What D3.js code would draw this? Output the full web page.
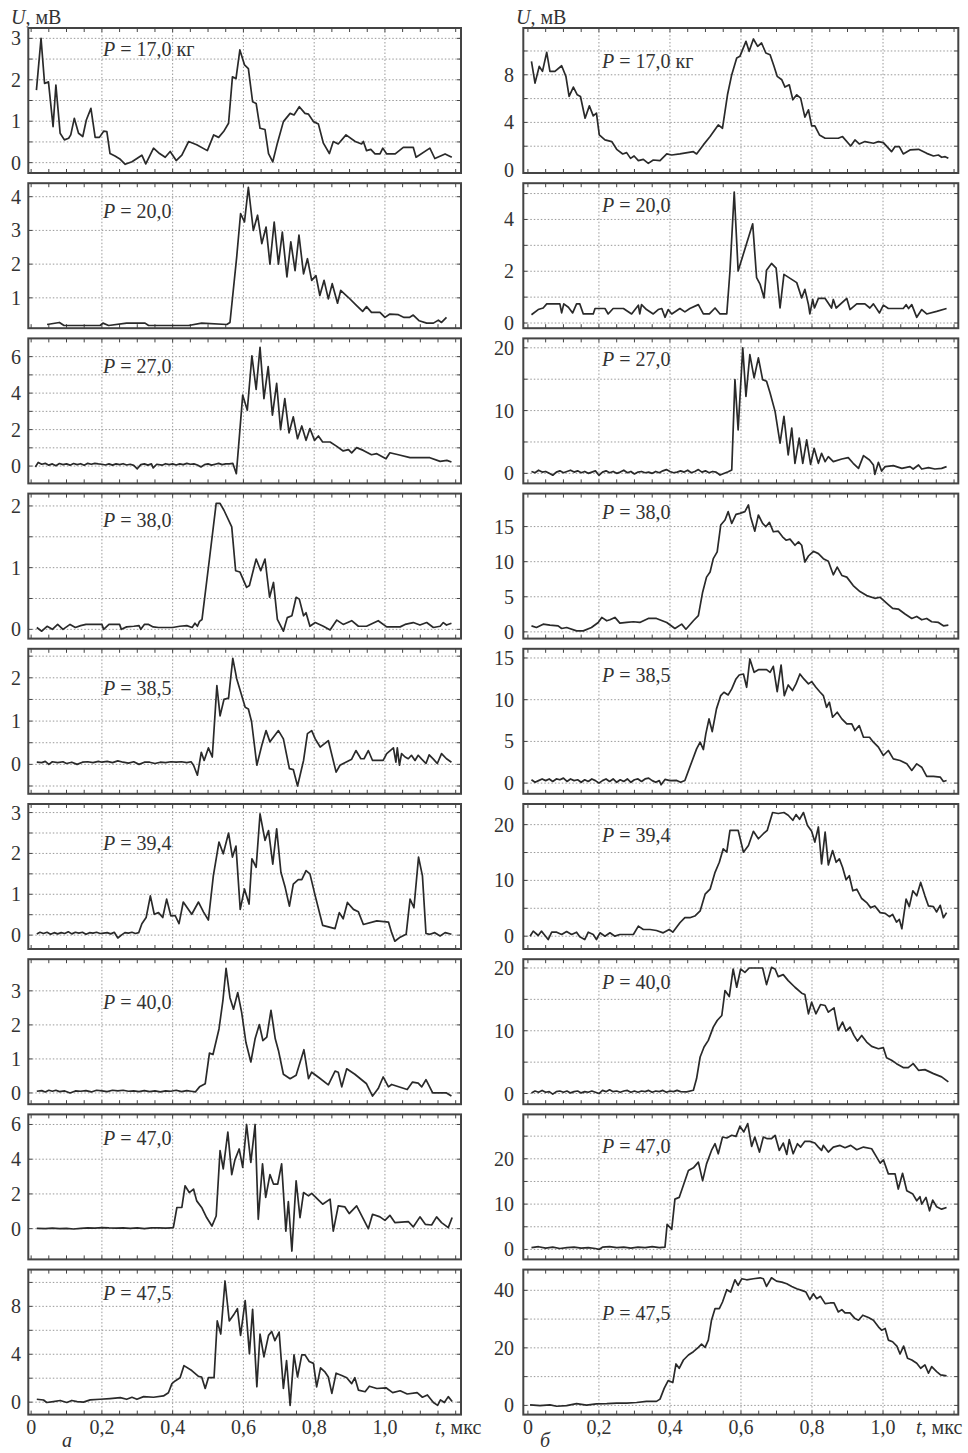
<!DOCTYPE html>
<html>
<head>
<meta charset="utf-8">
<script src="https://cdn.jsdelivr.net/npm/d3@7"></script>
<style>
  body { margin: 0; background: #fff; }
  text { font-family: "Liberation Serif", "Times New Roman", serif; fill: #333; }
</style>
</head>
<body>
<svg id="chart" width="968" height="1453"></svg>
<script>
// pressure labels, same for both columns
const pLabels = ["17,0 кг", "20,0", "27,0", "38,0", "38,5", "39,4", "40,0", "47,0", "47,5"];

const xTicks = [0, 0.2, 0.4, 0.6, 0.8, 1.0];
const xTickText = ["0", "0,2", "0,4", "0,6", "0,8", "1,0"];

// y axes, column a (left)
const leftDomains = [[-0.25, 3.25], [0.1, 4.4], [-0.95, 7], [-0.15, 2.2], [-0.68, 2.67], [-0.34, 3.21], [-0.33, 3.93], [-1.77, 6.58], [-1.04, 11.07]];
const leftTicks = [[0, 1, 2, 3], [1, 2, 3, 4], [0, 2, 4, 6], [0, 1, 2], [0, 1, 2], [0, 1, 2, 3], [0, 1, 2, 3], [0, 2, 4, 6], [0, 4, 8]];
const leftGrid = [0.5, 1, 1, 0.5, 0.5, 0.5, 1, 2, 2];

// y axes, column б (right)
const rightDomains = [[-0.25, 11.93], [-0.2, 5.4], [-1.6, 21.5], [-0.96, 19.7], [-1.28, 16.1], [-2.3, 23.7], [-1.7, 21.4], [-2.2, 29.8], [-3.2, 47.2]];
const rightTicks = [[0, 4, 8], [0, 2, 4], [0, 10, 20], [0, 5, 10, 15], [0, 5, 10, 15], [0, 10, 20], [0, 10, 20], [0, 10, 20], [0, 20, 40]];
const rightGrid = [2, 1, 5, 5, 5, 5, 5, 5, 10];

// signals [t, U], column a
const a170 = [[0.015,1.75],[0.028,3.0],[0.038,1.91],[0.049,1.95],[0.062,0.87],[0.07,1.87],[0.082,0.71],[0.094,0.55],[0.106,0.59],[0.112,0.67],[0.122,1.07],[0.134,0.71],[0.146,0.63],[0.156,1.03],[0.169,1.31],[0.181,0.61],[0.193,0.61],[0.205,0.76],[0.214,0.75],[0.223,0.22],[0.237,0.16],[0.252,0.08],[0.266,-0.04],[0.285,0.02],[0.313,0.18],[0.324,-0.03],[0.346,0.35],[0.363,0.22],[0.379,0.13],[0.393,0.27],[0.41,0.05],[0.426,0.18],[0.445,0.51],[0.468,0.43],[0.498,0.29],[0.516,0.67],[0.53,0.61],[0.544,0.75],[0.558,0.95],[0.569,2.07],[0.579,2.03],[0.59,2.72],[0.603,2.36],[0.614,2.27],[0.626,1.47],[0.636,1.43],[0.647,0.83],[0.661,0.8],[0.671,0.22],[0.683,0.02],[0.696,0.47],[0.713,0.99],[0.732,1.19],[0.743,1.15],[0.758,1.35],[0.774,1.19],[0.784,1.17],[0.798,0.99],[0.812,0.93],[0.826,0.47],[0.843,0.22],[0.854,0.51],[0.868,0.45],[0.89,0.67],[0.916,0.51],[0.934,0.45],[0.939,0.51],[0.948,0.29],[0.96,0.32],[0.972,0.21],[0.986,0.21],[0.994,0.35],[1.005,0.21],[1.029,0.21],[1.052,0.37],[1.08,0.37],[1.088,0.13],[1.127,0.35],[1.141,0.1],[1.17,0.21],[1.189,0.13]];
const a200 = [[0.045,0.21],[0.08,0.27],[0.093,0.18],[0.195,0.18],[0.203,0.25],[0.219,0.18],[0.27,0.25],[0.322,0.25],[0.332,0.18],[0.445,0.18],[0.482,0.25],[0.553,0.21],[0.562,0.27],[0.581,2.21],[0.592,3.5],[0.603,3.25],[0.614,4.28],[0.628,3.0],[0.64,3.45],[0.652,2.61],[0.664,3.1],[0.675,2.0],[0.687,3.25],[0.699,2.0],[0.71,2.95],[0.723,1.62],[0.734,2.66],[0.746,1.81],[0.757,2.86],[0.77,1.71],[0.781,2.16],[0.793,1.52],[0.805,1.66],[0.816,1.07],[0.828,1.52],[0.84,0.97],[0.851,1.42],[0.866,0.84],[0.875,1.22],[0.897,1.01],[0.92,0.77],[0.937,0.6],[0.948,0.74],[0.962,0.57],[0.986,0.57],[1.0,0.42],[1.014,0.52],[1.038,0.5],[1.054,0.42],[1.069,0.42],[1.08,0.49],[1.097,0.32],[1.118,0.25],[1.137,0.25],[1.151,0.34],[1.16,0.27],[1.174,0.42]];
const a270 = [[0.012,-0.05],[0.02,0.2],[0.03,0.1],[0.04,0.15],[0.05,0.05],[0.06,0.12],[0.07,0.02],[0.08,0.14],[0.09,0.08],[0.1,0.12],[0.11,0.05],[0.12,0.14],[0.13,0.08],[0.14,0.13],[0.15,0.05],[0.16,0.15],[0.17,0.1],[0.18,0.15],[0.19,0.12],[0.2,0.1],[0.21,0.06],[0.22,0.12],[0.23,0.05],[0.24,0.12],[0.25,0.08],[0.26,0.13],[0.27,0.06],[0.28,0.1],[0.29,0.04],[0.3,-0.15],[0.31,0.08],[0.32,0.12],[0.33,0.05],[0.34,0.12],[0.345,-0.1],[0.355,0.1],[0.37,0.05],[0.38,0.13],[0.39,0.08],[0.4,0.12],[0.41,0.06],[0.42,0.12],[0.43,0.08],[0.44,0.15],[0.45,0.1],[0.46,0.12],[0.47,0.06],[0.48,-0.05],[0.49,0.08],[0.5,0.12],[0.51,0.05],[0.52,0.1],[0.53,0.15],[0.54,0.08],[0.55,0.12],[0.56,0.12],[0.57,0.15],[0.58,-0.42],[0.59,1.96],[0.598,3.89],[0.611,3.06],[0.624,6.04],[0.636,4.2],[0.647,6.51],[0.658,3.7],[0.67,5.45],[0.682,2.79],[0.694,4.53],[0.705,2.0],[0.717,3.7],[0.729,1.82],[0.741,2.7],[0.753,1.5],[0.765,2.2],[0.777,1.41],[0.788,2.06],[0.801,1.41],[0.812,1.65],[0.824,1.32],[0.845,1.32],[0.864,1.08],[0.882,0.83],[0.897,0.9],[0.906,0.72],[0.92,1.01],[0.939,0.86],[0.962,0.62],[0.977,0.68],[1.003,0.4],[1.014,0.73],[1.038,0.62],[1.071,0.46],[1.127,0.46],[1.156,0.26],[1.175,0.31],[1.188,0.22]];
const a380 = [[0.016,0.03],[0.03,-0.03],[0.045,0.05],[0.06,0.0],[0.075,0.08],[0.09,0.0],[0.11,0.08],[0.125,0.03],[0.14,0.06],[0.155,0.08],[0.17,0.08],[0.185,0.08],[0.2,0.08],[0.205,0.0],[0.22,0.08],[0.24,0.08],[0.25,0.08],[0.255,0.0],[0.27,0.04],[0.29,0.05],[0.305,0.06],[0.31,0.0],[0.32,0.08],[0.332,0.08],[0.345,0.04],[0.36,0.03],[0.38,0.03],[0.4,0.03],[0.42,0.05],[0.44,0.06],[0.455,0.03],[0.463,0.1],[0.47,0.05],[0.476,0.13],[0.483,0.16],[0.504,1.14],[0.523,2.04],[0.534,2.04],[0.545,1.93],[0.567,1.66],[0.578,0.95],[0.59,0.93],[0.609,0.68],[0.617,0.71],[0.636,1.14],[0.649,0.95],[0.661,1.14],[0.674,0.52],[0.685,0.76],[0.696,0.16],[0.713,-0.03],[0.724,0.19],[0.737,0.22],[0.749,0.52],[0.758,0.49],[0.77,0.22],[0.777,0.27],[0.788,0.05],[0.803,0.11],[0.826,0.05],[0.845,-0.01],[0.864,0.15],[0.882,0.08],[0.906,0.14],[0.925,0.05],[0.948,0.05],[0.981,0.14],[1.005,0.04],[1.043,0.04],[1.057,0.08],[1.08,0.11],[1.099,0.07],[1.118,0.11],[1.137,0.03],[1.156,0.05],[1.165,0.11],[1.174,0.07],[1.188,0.1]];
const a385 = [[0.016,0.05],[0.03,0.04],[0.04,0.07],[0.05,0.0],[0.06,0.06],[0.075,0.04],[0.09,0.06],[0.1,0.02],[0.115,0.05],[0.13,0.0],[0.145,0.05],[0.16,0.06],[0.175,0.04],[0.19,0.07],[0.2,0.05],[0.215,0.07],[0.23,0.04],[0.245,0.08],[0.26,0.05],[0.275,0.03],[0.29,0.06],[0.305,0.0],[0.32,0.05],[0.335,0.05],[0.35,0.02],[0.365,0.05],[0.38,0.04],[0.395,0.06],[0.41,0.05],[0.425,0.06],[0.44,0.04],[0.452,0.06],[0.459,-0.02],[0.47,-0.25],[0.481,0.28],[0.489,0.09],[0.501,0.38],[0.512,0.17],[0.525,1.82],[0.534,1.12],[0.545,1.5],[0.558,1.53],[0.57,2.45],[0.581,1.98],[0.592,1.68],[0.605,1.32],[0.614,1.28],[0.623,0.99],[0.638,-0.02],[0.652,0.44],[0.664,0.78],[0.675,0.52],[0.699,0.78],[0.713,0.59],[0.73,-0.1],[0.741,-0.12],[0.753,-0.5],[0.77,0.09],[0.781,0.71],[0.793,0.78],[0.803,0.59],[0.817,0.4],[0.84,0.55],[0.862,-0.18],[0.873,-0.02],[0.906,0.12],[0.918,0.32],[0.932,0.13],[0.941,0.13],[0.953,0.32],[0.965,0.09],[0.995,0.09],[1.005,0.25],[1.024,0.38],[1.031,0.05],[1.035,0.38],[1.041,-0.02],[1.047,0.25],[1.057,0.17],[1.066,0.13],[1.075,0.21],[1.085,0.09],[1.094,0.21],[1.104,0.12],[1.116,0.02],[1.125,0.22],[1.137,0.12],[1.148,0.02],[1.16,0.25],[1.174,0.13],[1.188,0.05]];
const a394 = [[0.016,0.03],[0.025,0.07],[0.035,0.04],[0.045,0.07],[0.055,0.02],[0.065,0.06],[0.075,0.03],[0.085,0.06],[0.095,0.04],[0.105,0.08],[0.115,0.03],[0.125,0.07],[0.135,0.05],[0.145,0.07],[0.155,0.02],[0.165,0.06],[0.175,0.05],[0.185,0.07],[0.195,0.04],[0.205,0.05],[0.215,0.06],[0.225,0.03],[0.235,0.07],[0.245,-0.07],[0.255,0.0],[0.265,0.06],[0.275,0.05],[0.285,0.07],[0.295,0.04],[0.304,0.06],[0.313,0.28],[0.325,0.43],[0.337,0.96],[0.348,0.51],[0.36,0.55],[0.372,0.43],[0.383,0.88],[0.395,0.47],[0.407,0.48],[0.418,0.28],[0.43,0.81],[0.454,0.51],[0.473,0.81],[0.487,0.57],[0.501,0.37],[0.515,1.45],[0.531,2.28],[0.543,1.99],[0.558,2.5],[0.569,1.91],[0.579,2.18],[0.591,0.63],[0.603,1.13],[0.616,0.76],[0.624,1.87],[0.636,1.66],[0.647,2.97],[0.661,2.32],[0.671,2.56],[0.683,1.74],[0.694,2.6],[0.706,1.54],[0.718,1.17],[0.73,0.71],[0.741,1.25],[0.755,1.36],[0.765,1.36],[0.777,1.58],[0.788,1.5],[0.803,0.96],[0.824,0.24],[0.859,0.16],[0.871,0.55],[0.882,0.4],[0.894,0.8],[0.911,0.63],[0.925,0.57],[0.939,0.26],[0.977,0.35],[1.01,0.32],[1.019,0.06],[1.028,-0.15],[1.043,-0.05],[1.06,0.02],[1.071,0.88],[1.082,0.67],[1.095,1.91],[1.106,1.45],[1.116,0.04],[1.127,0.02],[1.141,0.06],[1.156,-0.02],[1.17,0.06],[1.188,0.02]];
const a400 = [[0.016,0.05],[0.03,0.07],[0.04,0.03],[0.05,0.08],[0.06,0.05],[0.07,0.08],[0.08,0.04],[0.095,0.06],[0.11,0.0],[0.125,0.06],[0.14,0.05],[0.155,0.07],[0.17,0.03],[0.185,0.08],[0.2,0.06],[0.215,0.04],[0.23,0.08],[0.245,0.06],[0.26,0.08],[0.275,0.05],[0.29,0.06],[0.305,0.04],[0.32,0.07],[0.335,0.04],[0.35,0.06],[0.365,0.03],[0.38,0.06],[0.395,0.05],[0.41,0.08],[0.425,0.04],[0.44,0.07],[0.452,0.05],[0.464,0.03],[0.476,0.18],[0.492,0.27],[0.504,1.17],[0.514,1.13],[0.531,1.88],[0.542,2.71],[0.551,3.66],[0.562,2.8],[0.572,2.46],[0.584,2.95],[0.595,2.37],[0.607,1.49],[0.621,0.91],[0.633,1.59],[0.645,2.01],[0.655,1.54],[0.666,1.64],[0.678,2.43],[0.69,1.59],[0.699,1.25],[0.713,0.55],[0.732,0.42],[0.749,0.52],[0.771,1.27],[0.784,0.42],[0.793,0.61],[0.815,0.44],[0.84,0.24],[0.859,0.64],[0.868,0.61],[0.878,0.18],[0.892,0.71],[0.915,0.55],[0.948,0.27],[0.965,-0.09],[0.981,0.13],[0.995,0.47],[1.01,0.18],[1.019,0.25],[1.063,0.1],[1.078,0.32],[1.094,0.29],[1.104,0.18],[1.116,0.39],[1.135,0.0],[1.174,0.0],[1.188,-0.09]];
const a470 = [[0.016,0.02],[0.04,0.0],[0.06,0.03],[0.08,0.0],[0.1,0.02],[0.12,-0.02],[0.14,0.02],[0.16,0.05],[0.18,0.03],[0.2,0.06],[0.22,0.04],[0.24,0.03],[0.26,0.05],[0.28,0.02],[0.3,0.05],[0.32,0.0],[0.34,0.04],[0.36,0.05],[0.38,0.03],[0.395,0.05],[0.402,0.06],[0.412,1.22],[0.426,1.22],[0.435,2.47],[0.447,2.08],[0.459,2.28],[0.468,1.6],[0.482,1.22],[0.496,0.64],[0.511,0.15],[0.523,0.73],[0.534,4.5],[0.543,3.44],[0.556,5.56],[0.567,3.11],[0.576,3.96],[0.588,4.59],[0.598,3.53],[0.609,6.0],[0.621,3.82],[0.633,6.0],[0.642,0.54],[0.654,3.73],[0.663,1.8],[0.675,3.11],[0.685,2.57],[0.697,2.57],[0.708,3.73],[0.72,-0.14],[0.727,1.56],[0.737,-1.29],[0.749,2.76],[0.76,0.64],[0.77,2.08],[0.784,1.89],[0.793,2.03],[0.824,1.41],[0.845,1.7],[0.854,-0.14],[0.868,1.31],[0.887,1.25],[0.899,0.87],[0.92,1.31],[0.953,0.0],[0.965,0.83],[0.986,0.68],[1.0,0.48],[1.014,0.77],[1.028,0.35],[1.066,0.41],[1.08,0.1],[1.099,0.68],[1.114,0.25],[1.132,0.21],[1.146,0.68],[1.16,0.35],[1.179,0.06],[1.19,0.64]];
const a475 = [[0.016,0.24],[0.035,0.18],[0.044,-0.03],[0.063,0.05],[0.082,0.14],[0.101,-0.03],[0.115,0.14],[0.13,0.05],[0.148,0.0],[0.167,0.19],[0.195,0.24],[0.223,0.3],[0.252,0.38],[0.27,0.24],[0.285,0.41],[0.299,0.24],[0.318,0.46],[0.346,0.41],[0.374,0.52],[0.388,0.79],[0.398,1.55],[0.407,1.77],[0.421,2.04],[0.432,3.05],[0.454,2.64],[0.473,2.15],[0.482,2.1],[0.492,1.14],[0.501,2.04],[0.517,2.04],[0.526,6.78],[0.536,5.69],[0.548,10.12],[0.56,6.78],[0.572,7.27],[0.583,7.81],[0.592,5.58],[0.605,8.49],[0.617,4.05],[0.626,7.76],[0.638,1.28],[0.647,5.69],[0.658,3.78],[0.671,5.58],[0.68,5.9],[0.689,5.14],[0.701,5.85],[0.713,1.14],[0.722,3.46],[0.732,-0.27],[0.743,3.95],[0.753,2.1],[0.765,3.95],[0.774,3.95],[0.786,3.4],[0.798,3.24],[0.807,1.28],[0.818,2.86],[0.831,2.5],[0.84,2.1],[0.85,0.73],[0.862,2.42],[0.878,2.23],[0.892,2.04],[0.906,1.55],[0.915,2.04],[0.925,1.01],[0.944,0.87],[0.956,1.33],[0.977,1.14],[1.003,1.2],[1.022,0.79],[1.043,0.95],[1.063,0.68],[1.091,0.79],[1.106,0.41],[1.12,0.6],[1.137,-0.03],[1.149,-0.27],[1.157,0.19],[1.168,-0.03],[1.179,0.46],[1.19,0.05]];

// signals [t, U], column б
const b170 = [[0.01,9.13],[0.02,7.3],[0.032,8.71],[0.041,8.29],[0.053,9.89],[0.062,8.29],[0.076,8.29],[0.095,8.76],[0.107,7.87],[0.116,6.18],[0.128,6.97],[0.139,6.32],[0.148,6.18],[0.161,4.35],[0.173,5.39],[0.184,4.55],[0.193,4.78],[0.201,2.95],[0.217,2.53],[0.236,2.39],[0.25,1.74],[0.267,1.35],[0.278,1.46],[0.289,0.98],[0.299,1.18],[0.311,0.79],[0.325,0.9],[0.339,0.56],[0.353,0.84],[0.372,0.79],[0.391,1.35],[0.405,1.26],[0.428,1.35],[0.466,1.54],[0.475,1.35],[0.494,2.11],[0.513,2.81],[0.536,3.79],[0.548,3.51],[0.562,6.32],[0.574,8.01],[0.588,9.41],[0.597,9.55],[0.614,10.81],[0.623,9.97],[0.635,11.01],[0.647,10.39],[0.658,10.67],[0.67,9.83],[0.682,9.69],[0.693,8.71],[0.702,7.87],[0.715,7.58],[0.724,6.97],[0.736,7.16],[0.746,5.9],[0.757,6.32],[0.768,6.04],[0.78,4.44],[0.79,5.06],[0.799,3.71],[0.808,3.71],[0.821,2.95],[0.837,2.67],[0.874,2.67],[0.886,2.81],[0.909,2.02],[0.921,2.53],[0.933,2.19],[0.949,2.39],[0.973,2.25],[0.987,2.39],[1.001,2.3],[1.024,1.54],[1.034,1.97],[1.046,1.97],[1.057,1.35],[1.076,1.69],[1.1,1.74],[1.123,1.4],[1.142,1.18],[1.156,1.26],[1.165,1.07],[1.175,1.12],[1.184,0.98]];
const b200 = [[0.01,0.32],[0.029,0.52],[0.043,0.58],[0.053,0.74],[0.09,0.74],[0.095,0.39],[0.101,0.74],[0.114,0.61],[0.126,0.39],[0.137,0.74],[0.146,0.74],[0.156,0.35],[0.184,0.35],[0.189,0.56],[0.217,0.56],[0.226,0.35],[0.24,0.56],[0.269,0.56],[0.292,0.35],[0.311,0.69],[0.315,0.35],[0.32,0.71],[0.334,0.52],[0.353,0.35],[0.367,0.52],[0.377,0.56],[0.386,0.22],[0.395,0.52],[0.405,0.35],[0.428,0.56],[0.442,0.43],[0.456,0.56],[0.48,0.71],[0.494,0.35],[0.511,0.35],[0.527,0.58],[0.541,0.35],[0.56,0.35],[0.569,2.01],[0.581,5.06],[0.592,2.01],[0.633,3.83],[0.644,1.75],[0.654,1.49],[0.665,0.97],[0.672,2.04],[0.686,2.3],[0.699,2.12],[0.71,0.58],[0.721,1.88],[0.757,1.56],[0.771,0.97],[0.78,1.3],[0.79,0.71],[0.794,0.35],[0.802,0.91],[0.807,0.58],[0.818,0.95],[0.837,0.95],[0.855,0.58],[0.86,0.91],[0.868,0.58],[0.898,0.95],[0.907,0.52],[0.926,0.74],[0.949,0.74],[0.963,0.58],[0.973,0.74],[0.99,0.39],[1.001,0.69],[1.015,0.56],[1.057,0.56],[1.065,0.71],[1.072,0.56],[1.081,0.71],[1.095,0.22],[1.109,0.52],[1.123,0.35],[1.151,0.45],[1.179,0.56]];
const b270 = [[0.01,0.3],[0.02,0.1],[0.03,0.5],[0.04,0.2],[0.05,0.3],[0.06,0.0],[0.07,-0.3],[0.08,0.2],[0.09,0.4],[0.1,0.1],[0.11,0.3],[0.12,0.5],[0.13,0.2],[0.14,0.4],[0.15,0.1],[0.16,0.3],[0.17,0.0],[0.18,0.2],[0.19,0.4],[0.2,-0.3],[0.21,0.2],[0.22,0.4],[0.23,0.1],[0.24,0.3],[0.25,0.0],[0.26,0.2],[0.27,0.5],[0.28,0.1],[0.29,0.3],[0.3,-0.1],[0.31,0.2],[0.32,0.3],[0.33,0.1],[0.34,0.2],[0.35,0.0],[0.36,0.3],[0.37,0.1],[0.38,0.4],[0.39,0.6],[0.4,0.3],[0.41,0.1],[0.42,0.2],[0.43,0.4],[0.44,0.2],[0.45,0.5],[0.46,0.1],[0.47,0.3],[0.48,0.6],[0.49,0.2],[0.5,0.4],[0.51,0.1],[0.52,0.3],[0.53,0.2],[0.541,-0.27],[0.564,0.27],[0.574,0.53],[0.583,14.93],[0.592,6.93],[0.605,20.0],[0.614,12.27],[0.625,18.93],[0.637,15.2],[0.649,18.4],[0.661,14.93],[0.672,14.67],[0.682,12.8],[0.696,9.87],[0.71,4.8],[0.721,9.07],[0.733,2.93],[0.743,7.2],[0.752,1.6],[0.764,5.6],[0.774,1.6],[0.785,5.33],[0.796,1.44],[0.806,4.0],[0.818,1.6],[0.827,3.2],[0.837,1.87],[0.846,2.67],[0.86,1.87],[0.884,2.29],[0.902,2.51],[0.916,1.6],[0.931,0.8],[0.945,2.83],[0.962,2.13],[0.973,1.33],[0.977,-0.16],[0.987,1.76],[0.996,0.37],[1.006,1.07],[1.029,1.23],[1.053,0.8],[1.076,1.07],[1.085,0.69],[1.1,1.33],[1.109,0.69],[1.128,0.91],[1.146,0.69],[1.165,0.8],[1.179,1.07]];
const b380 = [[0.01,0.86],[0.024,0.62],[0.043,1.1],[0.062,0.96],[0.085,0.86],[0.095,0.48],[0.109,0.62],[0.137,0.14],[0.156,0.14],[0.179,0.62],[0.198,1.34],[0.208,2.06],[0.222,1.58],[0.231,1.72],[0.245,2.06],[0.259,1.24],[0.278,1.34],[0.297,1.44],[0.315,1.34],[0.339,1.91],[0.362,1.91],[0.391,1.34],[0.414,0.48],[0.433,1.1],[0.445,0.38],[0.466,1.58],[0.48,2.3],[0.492,5.65],[0.503,7.8],[0.513,8.52],[0.522,10.43],[0.533,11.39],[0.543,15.22],[0.555,15.93],[0.564,17.13],[0.574,15.45],[0.586,16.75],[0.597,16.89],[0.611,17.13],[0.621,18.09],[0.627,16.41],[0.639,14.35],[0.649,16.65],[0.661,15.45],[0.67,14.98],[0.68,15.6],[0.691,14.26],[0.705,14.35],[0.717,13.54],[0.727,13.06],[0.738,13.21],[0.752,12.34],[0.762,12.82],[0.771,12.34],[0.78,9.95],[0.79,10.81],[0.804,11.48],[0.818,11.15],[0.832,10.43],[0.846,10.05],[0.86,8.13],[0.871,9.23],[0.884,8.04],[0.898,7.8],[0.916,6.6],[0.935,5.74],[0.954,5.17],[0.977,4.78],[0.992,4.93],[1.01,4.11],[1.027,3.35],[1.043,3.25],[1.062,2.54],[1.081,1.91],[1.095,2.2],[1.109,1.72],[1.123,1.91],[1.137,1.44],[1.156,1.34],[1.17,0.86],[1.184,0.96]];
const b385 = [[0.01,0.4],[0.02,0.1],[0.03,0.3],[0.04,0.5],[0.05,0.3],[0.06,0.5],[0.07,0.2],[0.08,0.5],[0.09,0.4],[0.1,0.6],[0.11,0.2],[0.12,0.5],[0.13,0.3],[0.14,0.4],[0.15,0.1],[0.16,0.4],[0.17,0.2],[0.18,0.5],[0.19,0.3],[0.2,0.0],[0.21,0.3],[0.22,0.5],[0.23,0.2],[0.24,0.5],[0.25,0.1],[0.26,0.4],[0.27,0.2],[0.28,0.5],[0.29,0.1],[0.3,0.4],[0.31,0.5],[0.32,0.2],[0.33,0.5],[0.34,0.6],[0.35,0.3],[0.36,0.1],[0.37,0.3],[0.375,-0.2],[0.386,0.44],[0.4,0.3],[0.419,0.32],[0.43,0.1],[0.442,0.32],[0.461,2.51],[0.475,4.11],[0.485,4.91],[0.494,4.03],[0.501,5.9],[0.51,7.7],[0.519,6.18],[0.531,8.9],[0.543,10.49],[0.552,10.89],[0.564,10.57],[0.574,11.29],[0.586,12.49],[0.595,12.96],[0.607,13.08],[0.616,11.49],[0.625,14.88],[0.637,13.28],[0.649,13.6],[0.672,13.6],[0.682,13.28],[0.691,14.0],[0.702,10.97],[0.713,14.16],[0.722,10.49],[0.733,11.77],[0.745,11.09],[0.755,11.89],[0.766,13.08],[0.777,12.49],[0.79,11.89],[0.799,12.17],[0.811,11.49],[0.823,10.89],[0.832,10.49],[0.841,9.09],[0.849,9.69],[0.858,7.9],[0.871,8.5],[0.884,7.7],[0.898,7.1],[0.912,7.1],[0.921,6.3],[0.933,6.9],[0.945,5.5],[0.962,5.5],[0.973,4.91],[0.987,4.31],[1.001,3.31],[1.015,3.91],[1.029,2.91],[1.048,2.71],[1.067,2.31],[1.081,1.52],[1.095,2.31],[1.109,1.91],[1.123,0.8],[1.142,0.8],[1.161,0.72],[1.17,0.2],[1.179,0.32]];
const b394 = [[0.006,0.0],[0.015,0.9],[0.029,0.12],[0.038,0.9],[0.048,0.12],[0.057,-0.6],[0.067,0.72],[0.081,0.72],[0.095,0.3],[0.109,0.84],[0.123,0.3],[0.137,0.72],[0.146,-0.12],[0.16,-0.6],[0.17,0.72],[0.184,0.3],[0.193,-0.6],[0.203,0.6],[0.217,0.0],[0.231,0.6],[0.245,0.0],[0.259,0.3],[0.278,0.3],[0.297,0.3],[0.311,1.81],[0.325,1.2],[0.344,1.2],[0.362,1.02],[0.381,0.6],[0.398,1.2],[0.408,0.72],[0.428,2.41],[0.442,3.31],[0.456,3.31],[0.47,3.61],[0.485,4.52],[0.499,7.53],[0.513,8.43],[0.527,11.45],[0.539,13.25],[0.55,15.66],[0.56,15.06],[0.569,18.98],[0.592,18.98],[0.607,15.06],[0.621,16.27],[0.635,18.8],[0.649,17.47],[0.663,18.37],[0.674,18.98],[0.689,22.17],[0.705,21.99],[0.721,22.17],[0.733,21.69],[0.746,20.78],[0.755,21.81],[0.765,20.96],[0.776,22.17],[0.787,19.88],[0.799,18.8],[0.808,16.87],[0.818,19.58],[0.827,12.95],[0.837,18.67],[0.846,12.77],[0.858,15.36],[0.868,13.25],[0.877,13.86],[0.886,12.35],[0.896,10.12],[0.905,10.84],[0.915,8.13],[0.926,8.43],[0.94,6.75],[0.954,6.02],[0.965,5.12],[0.977,5.42],[0.992,4.22],[1.006,4.1],[1.018,3.49],[1.027,3.92],[1.038,2.53],[1.046,3.01],[1.053,1.33],[1.065,6.63],[1.074,5.3],[1.084,8.13],[1.095,7.23],[1.106,9.64],[1.118,7.23],[1.128,5.42],[1.142,5.3],[1.151,4.34],[1.161,5.54],[1.17,3.31],[1.179,4.22]];
const b400 = [[0.01,0.1],[0.02,0.4],[0.03,0.2],[0.04,0.5],[0.05,0.2],[0.06,0.3],[0.07,-0.1],[0.08,0.3],[0.09,0.4],[0.1,0.2],[0.11,0.4],[0.12,0.1],[0.13,0.3],[0.14,0.4],[0.15,0.1],[0.16,0.3],[0.17,0.2],[0.18,0.4],[0.19,0.2],[0.2,0.0],[0.21,0.5],[0.22,0.3],[0.23,0.6],[0.24,0.3],[0.25,0.4],[0.26,0.2],[0.27,0.4],[0.28,0.5],[0.29,0.2],[0.3,0.4],[0.31,0.2],[0.32,0.4],[0.33,0.3],[0.34,0.5],[0.35,0.2],[0.36,0.4],[0.37,0.3],[0.38,0.5],[0.39,0.2],[0.4,0.4],[0.41,0.3],[0.42,0.5],[0.43,0.3],[0.447,0.26],[0.466,0.53],[0.475,2.38],[0.485,5.82],[0.496,7.41],[0.508,8.47],[0.522,10.58],[0.533,11.64],[0.546,12.43],[0.555,16.4],[0.567,15.45],[0.578,19.84],[0.588,16.93],[0.599,19.84],[0.611,19.31],[0.623,20.0],[0.649,20.0],[0.661,20.0],[0.672,17.35],[0.686,20.1],[0.696,19.84],[0.705,18.62],[0.719,18.94],[0.733,17.99],[0.752,16.93],[0.771,15.98],[0.78,15.77],[0.79,12.7],[0.799,14.55],[0.811,12.7],[0.824,14.18],[0.837,14.02],[0.846,12.96],[0.862,13.65],[0.874,10.05],[0.886,11.38],[0.896,9.95],[0.907,10.58],[0.918,9.26],[0.928,8.36],[0.94,9.26],[0.954,8.2],[0.968,7.51],[0.987,7.14],[1.001,7.3],[1.01,5.71],[1.024,5.29],[1.038,4.76],[1.057,4.13],[1.071,4.13],[1.085,4.76],[1.1,3.7],[1.118,3.81],[1.142,3.17],[1.165,2.65],[1.184,1.85]];
const b470 = [[0.01,0.4],[0.03,0.6],[0.05,0.3],[0.07,0.5],[0.09,0.2],[0.11,0.4],[0.13,0.5],[0.15,0.3],[0.17,0.4],[0.19,0.2],[0.2,0.0],[0.21,0.5],[0.23,0.6],[0.25,0.4],[0.27,0.5],[0.29,0.3],[0.31,0.5],[0.33,0.4],[0.35,0.6],[0.37,0.4],[0.386,0.52],[0.392,5.56],[0.405,4.44],[0.414,11.11],[0.426,11.48],[0.439,14.44],[0.452,17.41],[0.466,18.0],[0.48,19.26],[0.492,15.19],[0.503,18.89],[0.517,21.85],[0.527,23.33],[0.536,21.11],[0.548,24.81],[0.56,24.59],[0.574,25.19],[0.586,24.96],[0.597,27.19],[0.608,25.93],[0.619,27.78],[0.63,22.74],[0.639,24.81],[0.652,21.48],[0.663,24.81],[0.674,24.44],[0.686,24.44],[0.696,25.19],[0.708,21.85],[0.719,23.48],[0.729,20.96],[0.736,24.22],[0.747,21.11],[0.759,23.33],[0.768,22.59],[0.78,23.85],[0.794,23.85],[0.808,23.48],[0.818,22.59],[0.827,21.85],[0.832,22.96],[0.846,21.48],[0.86,22.59],[0.879,22.96],[0.893,22.44],[0.909,22.96],[0.926,22.0],[0.945,22.59],[0.968,22.22],[0.982,20.37],[0.992,19.04],[1.001,19.78],[1.015,16.67],[1.034,16.67],[1.043,13.33],[1.055,16.81],[1.067,12.96],[1.084,12.22],[1.095,10.74],[1.104,11.63],[1.109,10.0],[1.121,11.48],[1.131,8.52],[1.14,10.89],[1.151,9.41],[1.165,8.89],[1.179,9.26]];
const b475 = [[0.006,0.2],[0.034,-0.1],[0.062,0.2],[0.081,-0.3],[0.109,-0.1],[0.137,0.6],[0.165,0.1],[0.193,0.5],[0.222,0.6],[0.25,0.8],[0.278,0.8],[0.306,1.0],[0.334,1.4],[0.362,1.4],[0.372,2.19],[0.384,5.99],[0.395,8.64],[0.408,7.95],[0.417,14.4],[0.426,12.9],[0.438,15.78],[0.452,17.51],[0.466,18.66],[0.48,20.16],[0.489,21.31],[0.499,20.16],[0.508,22.7],[0.517,29.61],[0.527,33.64],[0.539,33.64],[0.548,35.94],[0.56,40.21],[0.571,39.4],[0.583,43.66],[0.592,41.71],[0.602,44.01],[0.616,43.66],[0.635,44.01],[0.654,44.35],[0.663,44.01],[0.672,41.36],[0.686,44.35],[0.7,43.2],[0.715,42.86],[0.729,42.28],[0.743,41.36],[0.757,40.55],[0.771,39.98],[0.783,39.4],[0.794,36.75],[0.804,38.82],[0.813,37.1],[0.824,37.9],[0.837,35.37],[0.851,35.6],[0.862,35.6],[0.874,32.49],[0.884,33.29],[0.893,32.14],[0.907,32.14],[0.921,30.18],[0.931,29.61],[0.943,31.34],[0.959,30.53],[0.973,29.61],[0.987,27.3],[0.996,26.15],[1.006,26.73],[1.015,22.7],[1.027,22.12],[1.039,20.62],[1.048,17.86],[1.058,20.62],[1.069,16.36],[1.081,15.78],[1.095,14.63],[1.106,12.9],[1.118,14.06],[1.128,11.18],[1.137,13.48],[1.151,11.75],[1.162,10.6],[1.179,10.25]];

const leftSeries = [a170, a200, a270, a380, a385, a394, a400, a470, a475];
const rightSeries = [b170, b200, b270, b380, b385, b394, b400, b470, b475];

// ---- layout ----
const svg = d3.select("#chart");
const panelH = 145, pitch = 155.2, top0 = 28;
const leftLabelDy = [28, 35, 35, 33, 46, 46, 50, 31, 30];
const rightLabelDy = [40, 29, 28, 25, 33, 38, 30, 39, 50];
const fs = 20;

const columns = [
  { x0: 28.3, x1: 461, tdom: [-0.008, 1.215], tickX: 21, labelX: 103, hdrX: 11,
    domains: leftDomains, ticks: leftTicks, grid: leftGrid, series: leftSeries, labelDy: leftLabelDy,
    letter: "а", letterX: 62, tX: 435 },
  { x0: 523.3, x1: 958.3, tdom: [-0.013, 1.212], tickX: 514, labelX: 602, hdrX: 516,
    domains: rightDomains, ticks: rightTicks, grid: rightGrid, series: rightSeries, labelDy: rightLabelDy,
    letter: "б", letterX: 540, tX: 916 }
];

const defs = svg.append("defs");

columns.forEach((col, ci) => {
  const x = d3.scaleLinear().domain(col.tdom).range([col.x0, col.x1]);

  // header U, мВ
  const hdr = svg.append("text").attr("x", col.hdrX).attr("y", 24).attr("font-size", fs);
  hdr.append("tspan").attr("font-style", "italic").text("U");
  hdr.append("tspan").text(", мВ");

  col.series.forEach((data, i) => {
    const top = top0 + i * pitch, bottom = top + panelH;
    const y = d3.scaleLinear().domain(col.domains[i]).range([bottom, top]);
    const g = svg.append("g");

    const clipId = `clip-${ci}-${i}`;
    defs.append("clipPath").attr("id", clipId)
      .append("rect").attr("x", col.x0).attr("y", top).attr("width", col.x1 - col.x0).attr("height", panelH);

    // grid
    const [ylo, yhi] = col.domains[i];
    const step = col.grid[i];
    const hLines = d3.range(Math.ceil(ylo / step) * step, yhi, step)
      .filter(v => y(v) > top + 3 && y(v) < bottom - 3);
    g.selectAll(".hg").data(hLines).join("line")
      .attr("x1", col.x0).attr("x2", col.x1)
      .attr("y1", d => y(d)).attr("y2", d => y(d))
      .attr("stroke", "#999").attr("stroke-width", 1).attr("stroke-dasharray", "1.5,2");
    g.selectAll(".vg").data(xTicks.slice(1)).join("line")
      .attr("x1", d => x(d)).attr("x2", d => x(d))
      .attr("y1", top).attr("y2", bottom)
      .attr("stroke", "#999").attr("stroke-width", 1).attr("stroke-dasharray", "1.5,2");

    // minor ticks on top / bottom edges
    const minor = d3.range(0, 1.2001, 0.05).filter(t => x(t) > col.x0 + 2 && x(t) < col.x1 - 2);
    g.selectAll(".mt").data(minor).join("line")
      .attr("x1", d => x(d)).attr("x2", d => x(d)).attr("y1", top).attr("y2", top + 4)
      .attr("stroke", "#444").attr("stroke-width", 1);
    g.selectAll(".mb").data(minor).join("line")
      .attr("x1", d => x(d)).attr("x2", d => x(d)).attr("y1", bottom).attr("y2", bottom - 4)
      .attr("stroke", "#444").attr("stroke-width", 1);
    // ticks on left / right edges
    g.selectAll(".ml").data(hLines).join("line")
      .attr("x1", col.x0).attr("x2", col.x0 + 4).attr("y1", d => y(d)).attr("y2", d => y(d))
      .attr("stroke", "#444").attr("stroke-width", 1);
    g.selectAll(".mr").data(hLines).join("line")
      .attr("x1", col.x1).attr("x2", col.x1 - 4).attr("y1", d => y(d)).attr("y2", d => y(d))
      .attr("stroke", "#444").attr("stroke-width", 1);

    // signal
    const line = d3.line().x(d => x(d[0])).y(d => y(d[1]));
    g.append("path").datum(data)
      .attr("clip-path", `url(#${clipId})`)
      .attr("d", line)
      .attr("fill", "none").attr("stroke", "#2a2a2a").attr("stroke-width", 1.7)
      .attr("stroke-linejoin", "round");

    // frame
    g.append("rect").attr("x", col.x0).attr("y", top)
      .attr("width", col.x1 - col.x0).attr("height", panelH)
      .attr("fill", "none").attr("stroke", "#444").attr("stroke-width", 2);

    // y tick labels
    g.selectAll(".yl").data(col.ticks[i]).join("text")
      .attr("x", col.tickX).attr("y", d => y(d)).attr("dy", "0.35em")
      .attr("text-anchor", "end").attr("font-size", fs)
      .text(d => String(d).replace(".", ","));

    // pressure label
    const pl = g.append("text").attr("x", col.labelX).attr("y", top + col.labelDy[i]).attr("font-size", fs);
    pl.append("tspan").attr("font-style", "italic").text("P");
    pl.append("tspan").text(" = " + pLabels[i]);

    // bottom axis on the last panel
    if (i === col.series.length - 1) {
      svg.selectAll(null).data(xTicks).join("text")
        .attr("x", d => x(d)).attr("y", bottom + 19)
        .attr("text-anchor", "middle").attr("font-size", fs)
        .text((d, k) => xTickText[k]);
      const tl = svg.append("text").attr("x", col.tX).attr("y", bottom + 19).attr("font-size", fs);
      tl.append("tspan").attr("font-style", "italic").text("t");
      tl.append("tspan").text(", мкс");
      svg.append("text").attr("x", col.letterX).attr("y", bottom + 32)
        .attr("font-size", 20).attr("font-style", "italic").text(col.letter);
    }
  });
});
</script>
</body>
</html>
